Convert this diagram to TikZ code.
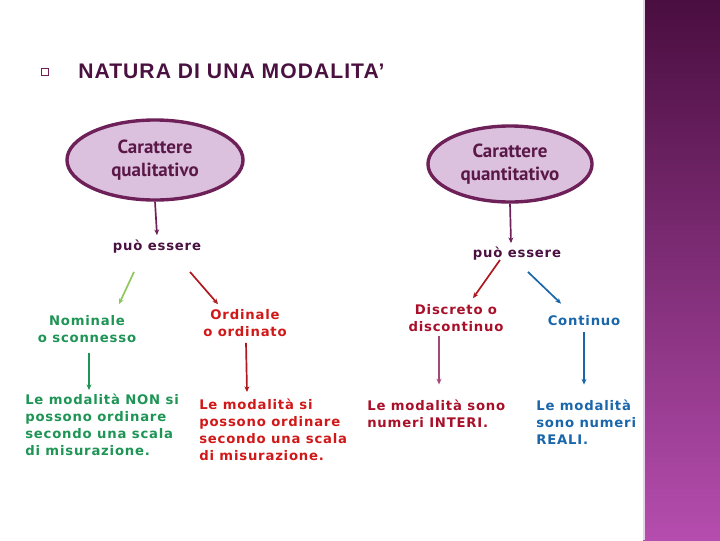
\documentclass[tikz,border=0pt]{standalone}
\usepackage{fontspec}
\setmainfont{Liberation Sans}
\newfontfamily\titlefont[LetterSpace=5]{Liberation Sans}
\newfontfamily\lblfont[LetterSpace=6]{DejaVu Sans}
\newfontfamily\ellfont{PT Sans}
\usetikzlibrary{positioning,arrows.meta,calc,shapes.geometric}

\definecolor{titlecol}{HTML}{4A1040}
\definecolor{ellfill}{HTML}{DCC1DE}
\definecolor{ellborder}{HTML}{6E2058}
\definecolor{elltext}{HTML}{5A1848}
\definecolor{lightgreen}{HTML}{8DC85A}
\definecolor{nomgreen}{HTML}{1E9455}
\definecolor{ordred}{HTML}{D01818}
\definecolor{arrred}{HTML}{B01820}
\definecolor{discred}{HTML}{A8102A}
\definecolor{contblue}{HTML}{1A66AA}
\definecolor{discarrow}{HTML}{A4477A}
\definecolor{bartop}{HTML}{4A0E40}
\definecolor{barbottom}{HTML}{B54DAE}

\begin{document}
\begin{tikzpicture}[x=0.025cm,y=-0.025cm,>={Stealth[length=4pt,width=3.5pt]},
  bubble/.style={ellipse,draw=ellborder,line width=2.4pt,fill=ellfill,text=elltext,
    font=\ellfont\bfseries\fontsize{13.5}{16}\selectfont,align=center,inner sep=0pt},
  lbl/.style={font=\lblfont\bfseries\fontsize{9.4}{12}\selectfont,align=center,inner sep=0pt},
  desc/.style={lbl,align=left,anchor=west},
  arr/.style={->,line width=1.2pt}]
  \useasboundingbox (0,0) rectangle (720,540);
  % side bar
  \shade[top color=bartop,bottom color=barbottom] (643,0) rectangle (720,540);
  \fill[ellfill!70!white] (643,0) rectangle (645,540);

  % title
  \node[draw=ellborder,line width=0.8pt,fill=white,minimum size=5.5pt,inner sep=0pt] (bullet) at (45,72) {};
  \node[anchor=west,inner sep=0pt,text=titlecol,font=\titlefont\bfseries\fontsize{15}{17}\selectfont] (title) at (78,71) {NATURA DI UNA MODALITA’};

  % ellipses
  \node[bubble,minimum width=4.4cm,minimum height=2cm] (qual) at (155,160) {Carattere\\qualitativo};
  \node[bubble,minimum width=4.1cm,minimum height=1.9cm] (quant) at (510,164) {Carattere\\quantitativo};

  \node[lbl,text=titlecol] (pq1) at (157,247) {può essere};
  \node[lbl,text=titlecol] (pq2) at (517,254) {può essere};

  % categories
  \node[lbl,text=nomgreen] (nom) at (87,329) {Nominale\\o sconnesso};
  \node[lbl,text=ordred] (ord) at (245,323) {Ordinale\\o ordinato};
  \node[lbl,text=discred] (disc) at (456,318) {Discreto o\\discontinuo};
  \node[lbl,text=contblue] (cont) at (584,321) {Continuo};

  % descriptions
  \node[desc,text=nomgreen] (gdesc) at (25,425) {Le modalità NON si\\possono ordinare\\secondo una scala\\di misurazione.};
  \node[desc,text=ordred] (rdesc) at (199,430) {Le modalità si\\possono ordinare\\secondo una scala\\di misurazione.};
  \node[desc,text=discred] (ddesc) at (367,413.5) {Le modalità sono\\numeri INTERI.};
  \node[desc,text=contblue] (bdesc) at (536,422) {Le modalità\\sono numeri\\REALI.};

  % arrows
  \draw[arr,ellborder] (qual.south) -- ($(pq1.north)+(0,-5)$);
  \draw[arr,ellborder] (quant.south) -- ($(pq2.north)+(-6,-4)$);
  \draw[arr,lightgreen] ($(pq1.south)+(-23,18)$) -- ($(nom.north)+(32,-11)$);
  \draw[arr,arrred] ($(pq1.south)+(33,18)$) -- ($(ord.north)+(-27,-5)$);
  \draw[arr,arrred] ($(pq2.south)+(-17,-1)$) -- ($(disc.north)+(17,-6)$);
  \draw[arr,contblue] ($(pq2.south)+(11,11)$) -- ($(cont.north)+(-23,-12)$);
  \draw[arr,nomgreen] ($(nom.south)+(2,10)$) -- ($(gdesc.north west)+(64,-4)$);
  \draw[arr,arrred] ($(ord.south)+(1,6)$) -- ($(rdesc.north west)+(48,-7)$);
  \draw[arr,discarrow] ($(disc.south)+(-17,4)$) -- ($(ddesc.north west)+(72,-15)$);
  \draw[arr,contblue] ($(cont.south)+(0,6)$) -- ($(bdesc.north west)+(48,-15)$);
\end{tikzpicture}
\end{document}
